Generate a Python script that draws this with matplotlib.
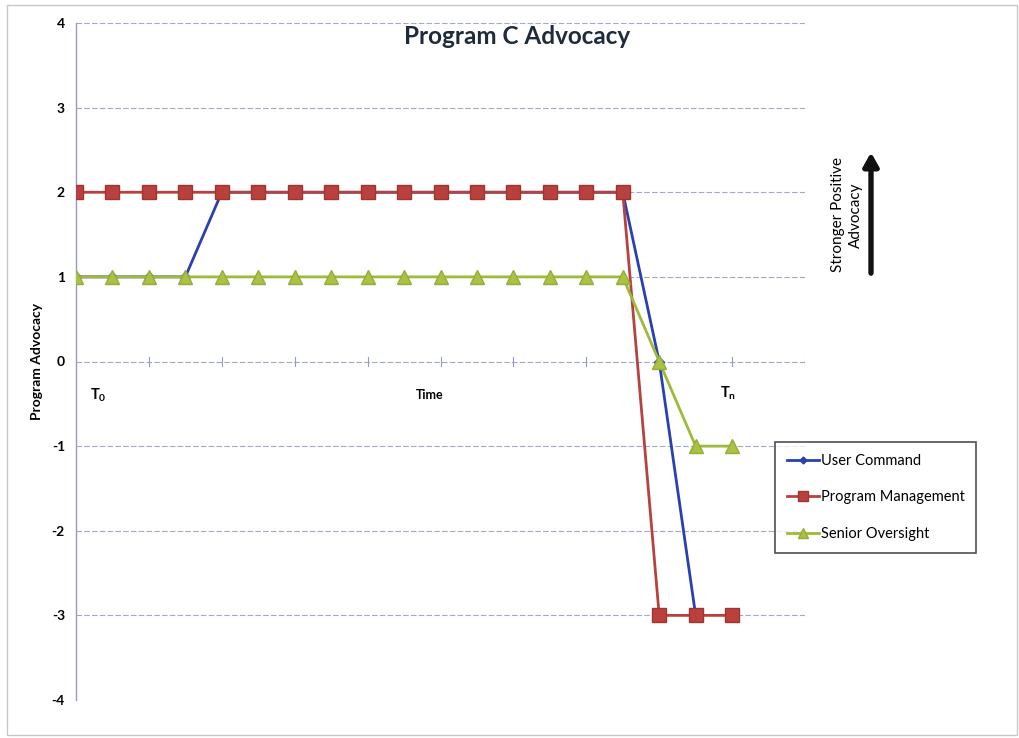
import matplotlib.pyplot as plt
from matplotlib.patches import Rectangle

plt.rcParams["font.family"] = ["Lato", "DejaVu Sans"]
plt.rcParams["mathtext.default"] = "regular"

# time steps and advocacy levels per stakeholder group
time_steps = list(range(19))
user_command = [1, 1, 1, 1] + [2] * 12 + [0, -3]
program_mgmt = [2] * 16 + [-3, -3, -3]
senior_oversight = [1] * 16 + [0, -1, -1]
y_ticks = [-4, -3, -2, -1, 0, 1, 2, 3, 4]

fig = plt.figure(figsize=(10.19, 7.38), dpi=100)
ax = fig.add_axes([76 / 1019, 38 / 738, (805 - 76) / 1019, (700 - 23) / 738])

grid_col = "#a4a8c8"
for yv in y_ticks:
    ax.axhline(yv, color=grid_col, lw=0.8, ls=(0, (5, 2)), zorder=1)

ax.plot(time_steps[:len(user_command)], user_command, color="#2a3fb0", lw=2,
        marker="D", ms=5, label="User Command", zorder=3)
ax.plot(time_steps, program_mgmt, color="#b8413d", lw=2,
        marker="s", ms=9.5, mfc="#b8413d", mec="#a03530", label="Program Management", zorder=4)
ax.plot(time_steps, senior_oversight, color="#9dba3a", lw=2,
        marker="^", ms=9.5, mfc="#a9c243", mec="#94ad38", label="Senior Oversight", zorder=5)

ax.set_xlim(0, 20)
ax.set_ylim(-4, 4)
ax.set_yticks(y_ticks)
ax.set_yticklabels([str(v) for v in y_ticks], fontsize=10, fontweight="bold")
ax.tick_params(axis="y", length=0, pad=8)
ax.set_xticks([])
for s in ["top", "right", "bottom"]:
    ax.spines[s].set_visible(False)
ax.spines["left"].set_color("#8e9ad0")
ax.spines["left"].set_linewidth(1)

# category ticks crossing the zero line
for xv in range(2, 21, 2):
    ax.plot([xv, xv], [-0.05, 0.05], color="#8e9ad0", lw=0.8, zorder=2)

ax.set_ylabel("Program Advocacy", fontsize=10, fontweight="bold", labelpad=6)
ax.text(0.6, -0.4, r"T$_0$", fontsize=10.5, fontweight="bold", ha="center", va="center")
ax.text(9.7, -0.4, "Time", fontsize=9, fontweight="bold", ha="center", va="center")
ax.text(17.9, -0.37, r"T$_n$", fontsize=10.5, fontweight="bold", ha="center", va="center")

fig.text(517 / 1019, 1 - 36 / 738, "Program C Advocacy", fontsize=17.5,
         fontweight="bold", color="#1f2a3c", ha="center", va="center")

# direction hint to the right of the plot
fig.text(847 / 1019, 1 - 215 / 738, "Stronger Positive\nAdvocacy", rotation=90,
         fontsize=11, ha="center", va="center", linespacing=1.35)
fig.add_artist(plt.annotate("", xy=(871 / 1019, 1 - 150 / 738), xytext=(871 / 1019, 1 - 276 / 738),
                            xycoords="figure fraction",
                            arrowprops=dict(arrowstyle="-|>,head_length=0.8,head_width=0.45",
                                            lw=3.5, color="#111111")))

leg = ax.legend(loc="upper left", bbox_to_anchor=((775 - 76) / 729, (700 - 442) / 677),
                frameon=True, fancybox=False, fontsize=10.5, handlelength=2.2,
                handletextpad=0.15, labelspacing=1.55, borderpad=0.8, borderaxespad=0,
                markerscale=0.7)
leg.get_frame().set_edgecolor("#222222")
leg.get_frame().set_linewidth(1.2)

# outer chart border
fig.add_artist(Rectangle((7 / 1019, 3 / 738), 1010 / 1019, 730 / 738,
                         transform=fig.transFigure, fill=False, ec="#c8c8c8", lw=1))

fig.savefig("out.png", dpi=100)
